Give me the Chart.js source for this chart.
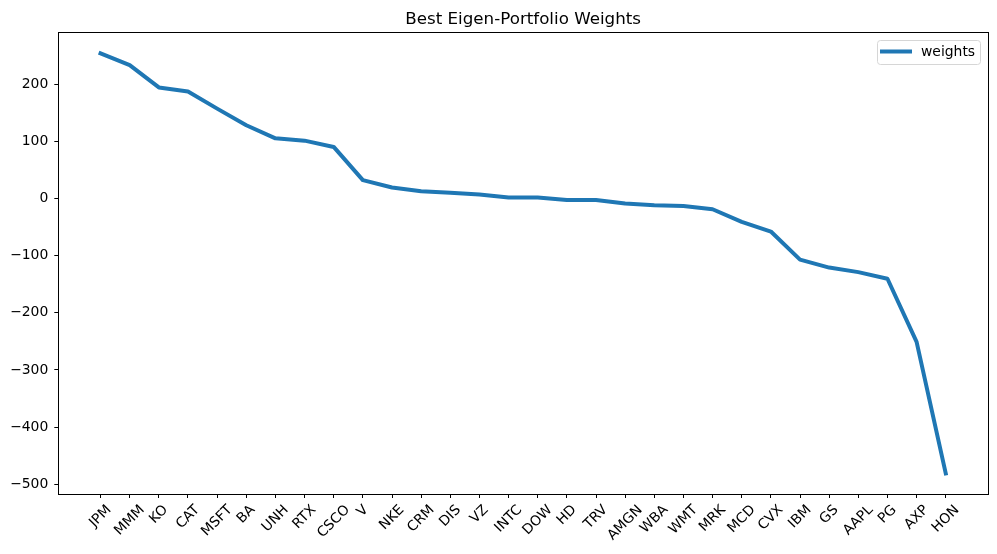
<!DOCTYPE html>
<html>
<head>
<meta charset="utf-8">
<script src="https://cdn.jsdelivr.net/npm/chart.js@4/dist/chart.umd.min.js"></script>
<style>
html,body{margin:0;padding:0;background:#fff;}
#wrap{width:997px;height:554px;}
</style>
</head>
<body>
<div id="wrap"><canvas id="c" width="997" height="554"></canvas></div>
<script>
const categories = ["JPM","MMM","KO","CAT","MSFT","BA","UNH","RTX","CSCO","V","NKE","CRM","DIS","VZ","INTC","DOW","HD","TRV","AMGN","WBA","WMT","MRK","MCD","CVX","IBM","GS","AAPL","PG","AXP","HON"];
const weights = [253.5,233,194,187,157,128,105,101,90,32,19,12.5,10,7,1.7,1.7,-3,-3,-9,-12,-13.5,-19,-41,-58,-107,-121,-129,-140.5,-251,-481];
const yTicks = [-500,-400,-300,-200,-100,0,100,200];
const seriesName = "weights";
const titleText = "Best Eigen-Portfolio Weights";

const FONT = "DejaVu Sans";
const FS = 13.9;
const points = weights.map((v,i)=>({x:i,y:v}));

const framePlugin = {
  id:'frame',
  afterDraw(chart){
    const {ctx, chartArea:a, scales} = chart;
    ctx.save();
    ctx.strokeStyle = '#000';
    ctx.lineWidth = 1;
    ctx.strokeRect(Math.round(a.left)+0.5, Math.round(a.top)+0.5, Math.round(a.right-a.left), Math.round(a.bottom-a.top));
    // title centered over axes
    ctx.font = '16.7px "' + FONT + '"';
    ctx.fillStyle = '#000';
    ctx.textAlign = 'center';
    ctx.textBaseline = 'alphabetic';
    ctx.fillText(titleText, (a.left+a.right)/2, 24);
    // x labels rotated 45, centered like matplotlib
    ctx.font = FS + 'px "' + FONT + '"';
    ctx.textAlign = 'center';
    ctx.textBaseline = 'middle';
    const h = FS*1.17;
    categories.forEach((lab,i)=>{
      const x = scales.x.getPixelForValue(i);
      const w = ctx.measureText(lab).width;
      const side = (w+h)/Math.SQRT2;
      const cy = a.bottom + 8 + side/2;
      ctx.save();
      ctx.translate(x, cy);
      ctx.rotate(-Math.PI/4);
      ctx.fillText(lab, 0, 0);
      ctx.restore();
    });
    // legend
    const lx = 877.5, ly = 40.5, lw = 103, lh = 24;
    ctx.beginPath();
    if (ctx.roundRect) ctx.roundRect(lx, ly, lw, lh, 3); else ctx.rect(lx,ly,lw,lh);
    ctx.fillStyle = 'rgba(255,255,255,0.8)';
    ctx.fill();
    ctx.strokeStyle = '#d6d6d6';
    ctx.lineWidth = 1;
    ctx.stroke();
    ctx.beginPath();
    ctx.moveTo(880, 51.5);
    ctx.lineTo(912, 51.5);
    ctx.strokeStyle = '#1f77b4';
    ctx.lineWidth = 4;
    ctx.stroke();
    ctx.fillStyle = '#000';
    ctx.textAlign = 'left';
    ctx.textBaseline = 'middle';
    ctx.fillText(seriesName, 921, 52);
    ctx.restore();
  }
};

new Chart(document.getElementById('c'), {
  type:'line',
  data:{
    datasets:[{
      label: seriesName,
      data: points,
      borderColor:'#1f77b4',
      borderWidth:4,
      pointRadius:0,
      pointHoverRadius:0,
      fill:false,
      tension:0,
      borderJoinStyle:'round',
      borderCapStyle:'square'
    }]
  },
  options:{
    responsive:false,
    animation:false,
    devicePixelRatio:1,
    layout:{padding:{left:0,right:9,top:32,bottom:0}},
    plugins:{
      legend:{display:false},
      tooltip:{enabled:false},
      title:{display:false}
    },
    scales:{
      x:{
        type:'linear',
        min:-1.45,
        max:categories.length-1+1.45,
        afterBuildTicks(s){ s.ticks = categories.map((c,i)=>({value:i})); },
        afterFit(s){ s.height = 60; },
        border:{display:false},
        grid:{display:true,drawOnChartArea:false,drawTicks:true,tickLength:4,color:'#000',lineWidth:1},
        ticks:{display:false}
      },
      y:{
        type:'linear',
        min:-517,
        max:291,
        afterBuildTicks(s){ s.ticks = yTicks.map(v=>({value:v})); },
        afterFit(s){ s.width = 58.3; },
        border:{display:false},
        grid:{display:true,drawOnChartArea:false,drawTicks:true,tickLength:4,color:'#000',lineWidth:1},
        ticks:{color:'#000',font:{family:FONT,size:FS},padding:6,
          callback:(v)=> (v<0 ? '\u2212'+Math.abs(v) : String(v))}
      }
    }
  },
  plugins:[framePlugin]
});
</script>
</body>
</html>
